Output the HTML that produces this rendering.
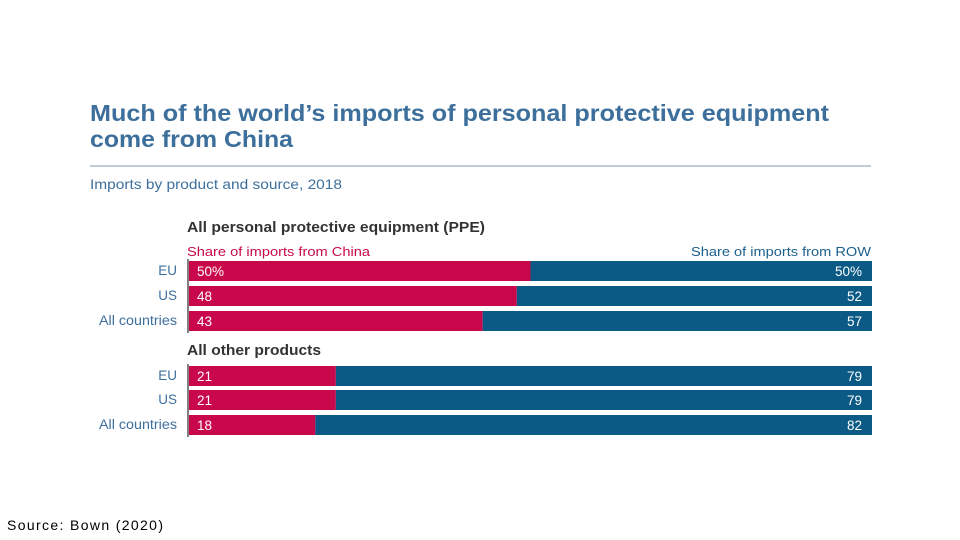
<!DOCTYPE html>
<html><head><meta charset="utf-8"><style>
body{margin:0;background:#fff;}
svg{display:block;font-family:"Liberation Sans",sans-serif;}
</style></head><body>
<svg id="chart" width="960" height="540" viewBox="0 0 960 540">
<text x="90" y="121" font-size="23" font-weight="bold" fill="#3d6f9c" textLength="739" lengthAdjust="spacingAndGlyphs">Much of the world’s imports of personal protective equipment</text>
<text x="90" y="147" font-size="23" font-weight="bold" fill="#3d6f9c" textLength="203" lengthAdjust="spacingAndGlyphs">come from China</text>
<line x1="90" y1="166" x2="871" y2="166" stroke="#a9bccd" stroke-width="1.5"/>
<text x="90" y="189" font-size="14" fill="#3d6f9c" textLength="252" lengthAdjust="spacingAndGlyphs">Imports by product and source, 2018</text>
<text x="187" y="232" font-size="14.5" font-weight="bold" fill="#333" textLength="298" lengthAdjust="spacingAndGlyphs">All personal protective equipment (PPE)</text>
<text x="187" y="256" font-size="13" fill="#c8084a" textLength="183" lengthAdjust="spacingAndGlyphs">Share of imports from China</text>
<text x="871" y="256" font-size="13" fill="#1b5f8c" text-anchor="end" textLength="180" lengthAdjust="spacingAndGlyphs">Share of imports from ROW</text>
<text x="187" y="355" font-size="14.5" font-weight="bold" fill="#333" textLength="134" lengthAdjust="spacingAndGlyphs">All other products</text>
<text x="7" y="530" font-size="14" fill="#000" textLength="156" lengthAdjust="spacing">Source:  Bown (2020)</text>
<g id="bars"></g>
</svg>
<script>
const categories = ["EU","US","All countries","EU","US","All countries"];
const chinaShare = [50,48,43,21.5,21.5,18.5];
const chinaLabels = ["50%","48","43","21","21","18"];
const rowLabels = ["50%","52","57","79","79","82"];

const X0=189, W=683;
const xScale=v=>X0+v/100*W;
const yTop=[261,286,311,366,390,415];
const g=document.getElementById('bars');
const NS='http://www.w3.org/2000/svg';
function mk(tag,attrs){const e=document.createElementNS(NS,tag);for(const k in attrs)e.setAttribute(k,attrs[k]);g.appendChild(e);return e;}
categories.forEach((c,i)=>{
  const y=yTop[i], h=20, xm=xScale(chinaShare[i]);
  const r1=mk('rect',{x:X0,y:y,width:xm-X0,height:h,fill:'#c8084a'});
  
  
  const r2=mk('rect',{x:xm,y:y,width:xScale(100)-xm,height:h,fill:'#0b5a85'});
  
  
  const t1=mk('text',{x:X0+8,y:y+15,'font-size':13.5,fill:'#fff'});t1.textContent=chinaLabels[i];
  
  
  const t2=mk('text',{x:xScale(100)-10,y:y+15,'font-size':13.5,fill:'#fff','text-anchor':'end'});t2.textContent=rowLabels[i];
  
  
  const t3=mk('text',{x:177,y:y+14,'font-size':13.5,fill:'#3d6f9c','text-anchor':'end'});t3.textContent=c;
  if(c==='All countries'){t3.setAttribute('textLength','78');t3.setAttribute('lengthAdjust','spacingAndGlyphs');}
  
  
});
[[259,333],[364,437]].forEach((r,i)=>{
  const l=mk('line',{x1:188,y1:r[0],x2:188,y2:r[1],stroke:'#555','stroke-width':1.5});
  
  
});
</script>
</body></html>
